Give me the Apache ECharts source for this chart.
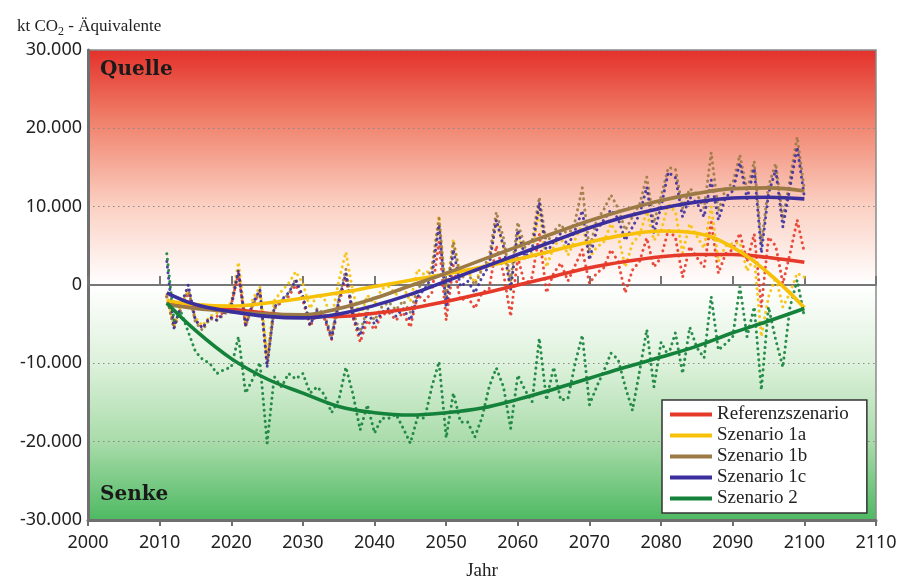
<!DOCTYPE html>
<html>
<head>
<meta charset="utf-8">
<script src="https://cdn.jsdelivr.net/npm/echarts@6/dist/echarts.min.js"></script>
<style>
  html, body { margin: 0; padding: 0; background: #fff; }
  #chart { width: 899px; height: 581px; }
</style>
</head>
<body>
<div id="chart"></div>
<script>
// Jahreswerte 2011-2100 (kt CO2-Aequivalente)
var firstYear = 2011;

var refAnnual = [
    -1500, -5500, -2800, -1000, -4500, -5500, -4300, -4000, -3500, -2500,
    1500, -5300, -2500, -1000, -10000, -3000, -2200, -1500, 0, -2000,
    -5300, -3500, -4300, -7000, -2500, 1000, -4200, -7300, -4500, -5700,
    -3800, -3500, -4500, -3500, -5400, -1300, -2000, -1000, 5500, -4500,
    2500, -2000, -1500, -3000, -1000, -500, 5000, 1500, -4000, 3500,
    0, 1000, 6500, -1000, 1500, 2800, 500, 2500, 4500, 200,
    1500, 2200, 4500, 3000, -1000, 1900, 3000, 6000, 2300, 3500,
    7000, 6100, 1000, 4900, 3500, 2300, 8000, 1500, 4000, 4500,
    6600, 3000, 6500, -2800, 6100, 5000, 200, 4000, 8300, 4100
];
var s1aAnnual = [
    -1200, -5200, -2500, -700, -4200, -5200, -4000, -3600, -3200, -2200,
    2900, -4600, -1800, -200, -9300, -2000, -800, 200, 1700, 200,
    -3000, -1200, -1800, -4300, 500, 4200, -1000, -4100, -1300, -2400,
    -500, -200, -1200, -200, -2100, 2000, 1300, 2300, 8800, -1200,
    5800, 1300, 1800, 300, 2300, 2800, 8300, 4800, -700, 6700,
    3200, 4200, 9700, 2300, 4800, 6100, 3800, 5800, 7800, 3500,
    4800, 5500, 7800, 6300, 2300, 5300, 6400, 9400, 5700, 6900,
    10300, 9300, 4100, 7800, 6200, 4700, 10000, 3000, 5000, 5300,
    5400, 1800, 3500, -6600, -1500, 1000, -2800, -1000, 1500, 1000
];
var s1bAnnual = [
    -1500, -5500, -3000, -500, -4800, -5800, -4300, -4500, -3800, -2800,
    1500, -5300, -2600, -800, -10000, -3000, -2000, -1200, 800, -1500,
    -5000, -3000, -3800, -6500, -1800, 2000, -3500, -6000, -3000, -4500,
    -2800, -2200, -3200, -2000, -3500, -500, 500, 2000, 8500, -1800,
    5500, 800, 1500, 0, 2000, 3500, 9300, 6000, 500, 8000,
    4800, 5700, 11200, 5300, 6800, 7800, 6200, 8200, 12400, 4500,
    8300, 9600, 11500, 9800, 7000, 8700, 10300, 13800, 7900, 11300,
    15000, 14800, 9800, 12300, 11600, 9800, 16900, 9400, 12300, 13000,
    16600, 12000, 15800, 5200, 12700, 15500, 8400, 13500, 18900, 12200
];
var s1cAnnual = [
    3000, -5500, -2500, 0, -4500, -5500, -4100, -4500, -3500, -2500,
    1900, -5100, -2300, -600, -10500, -2800, -1900, -1000, 600, -1500,
    -5100, -3200, -4000, -6800, -2000, 1500, -4000, -6500, -3500, -5000,
    -3500, -3000, -4000, -3000, -4500, -1500, -500, 1000, 7700, -2800,
    4500, -200, 500, -1000, 1000, 2500, 8300, 4900, -600, 7000,
    3600, 4500, 10500, 4100, 5500, 6600, 5000, 7000, 9500, 3200,
    7000, 8300, 9600, 8500, 5700, 7400, 9000, 12500, 6600, 10000,
    14400, 13700, 8700, 11200, 10500, 8700, 13400, 8300, 11200, 12000,
    15600, 11000, 14900, 4100, 11700, 14700, 7400, 12500, 17600, 11200
];
var s2Annual = [
    4000, -4500, -3500, -6000, -8500, -9500, -10000, -11300, -10800, -10500,
    -6600, -13800, -12000, -9900, -20200, -11700, -13000, -11300, -12000, -11300,
    -13800, -13000, -14000, -16300, -14700, -10500, -14000, -18500, -15300, -18900,
    -17000, -17000, -16500, -18300, -20200, -16900, -17000, -13000, -9800, -19500,
    -13800, -17500, -17500, -19400, -16900, -13000, -10600, -13000, -18300, -11500,
    -13400, -14900, -6800, -14700, -10500, -14700, -14500, -10000, -6400, -15300,
    -13000, -11000, -8700, -9500, -13000, -16000, -11000, -5700, -13000, -7300,
    -9000, -6100, -11300, -5400, -8000, -9300, -1500, -8300, -7500, -6600,
    -200, -6600, -2800, -13400, -2800, -7000, -10500, -2800, 600, -4100
];

// Trendkurven
var trendYears = [2011, 2015, 2020, 2025, 2030, 2035, 2040, 2045, 2050, 2055,
    2060, 2065, 2070, 2075, 2080, 2085, 2090, 2095, 2100];
var refTrend = [-2300, -2700, -3100, -3600, -4000, -4000, -3600, -3000, -2100, -1100,
    0, 1100, 2200, 3000, 3600, 3900, 3900, 3500, 2900];
var s1aTrend = [-2000, -2500, -2700, -2300, -1700, -1000, -200, 600, 1400, 2300,
    3300, 4400, 5500, 6400, 6900, 6600, 4800, 1500, -2900];
var s1bTrend = [-2500, -3000, -3400, -3700, -3800, -3000, -1700, -100, 1500, 3200,
    4900, 6600, 8200, 9600, 10800, 11700, 12300, 12400, 12000];
var s1cTrend = [-1000, -2500, -3400, -4000, -4200, -3700, -2600, -1200, 500, 2200,
    3900, 5600, 7300, 8700, 9800, 10600, 11100, 11200, 11000];
var s2Trend = [-2300, -5800, -9400, -12000, -13800, -15500, -16300, -16600, -16300, -15700,
    -14600, -13300, -11900, -10500, -9200, -7800, -6100, -4600, -3000];

var names = ['Referenzszenario', 'Szenario 1a', 'Szenario 1b', 'Szenario 1c', 'Szenario 2'];
var colors = ['#e53a2a', '#f7c10a', '#9c7a45', '#3b2f9e', '#14823a'];
var annuals = [refAnnual, s1aAnnual, s1bAnnual, s1cAnnual, s2Annual];
var trends = [refTrend, s1aTrend, s1bTrend, s1cTrend, s2Trend];

function fmt(v) {
    var s = String(Math.abs(v)).replace(/\B(?=(\d{3})+(?!\d))/g, '.');
    return (v < 0 ? '-' : '') + s;
}

var series = [];
annuals.forEach(function (arr, k) {
    series.push({
        name: names[k] + ' (Jahr)',
        type: 'line',
        symbol: 'none',
        z: 2,
        lineStyle: { color: colors[k], width: 3, type: [0.1, 5.5], cap: 'round', opacity: 0.9 },
        itemStyle: { color: colors[k] },
        data: arr.map(function (v, i) { return [firstYear + i, v]; })
    });
});
trends.forEach(function (arr, k) {
    series.push({
        name: names[k],
        type: 'line',
        symbol: 'none',
        smooth: 0.4,
        z: 5,
        lineStyle: { color: colors[k], width: 3.6 },
        itemStyle: { color: colors[k] },
        data: arr.map(function (v, i) { return [trendYears[i], v]; })
    });
});

var chart = echarts.init(document.getElementById('chart'));
chart.setOption({
    animation: false,
    title: {
        text: '{a|kt CO}{s|2}{a| - Äquivalente}',
        left: 12,
        top: 10,
        textStyle: {
            rich: {
                a: { fontFamily: 'Liberation Serif', fontSize: 17, fontWeight: 'normal', color: '#222', lineHeight: 20, verticalAlign: 'bottom' },
                s: { fontFamily: 'Liberation Serif', fontSize: 12, fontWeight: 'normal', color: '#222', lineHeight: 16, verticalAlign: 'bottom', padding: [0, 0, -3, 0] }
            }
        }
    },
    grid: {
        left: 88, right: 23, top: 50, bottom: 61,
        outerBoundsMode: 'none',
        containLabel: false,
        show: true,
        borderColor: '#8a8a8a',
        borderWidth: 1.5,
        backgroundColor: new echarts.graphic.LinearGradient(0, 0, 0, 1, [
            { offset: 0, color: '#e3302a' },
            { offset: 0.15, color: '#f0806a' },
            { offset: 0.33, color: '#fbd0c2' },
            { offset: 0.5, color: '#ffffff' },
            { offset: 0.67, color: '#dcf1da' },
            { offset: 0.83, color: '#aadcab' },
            { offset: 1, color: '#4db961' }
        ])
    },
    legend: {
        data: names,
        orient: 'vertical',
        left: 662,
        top: 400,
        padding: [4, 18, 4, 8],
        backgroundColor: '#fff',
        borderColor: '#333',
        borderWidth: 1.5,
        icon: 'rect',
        itemWidth: 42,
        itemHeight: 4,
        itemGap: 0,
        textStyle: { fontFamily: 'Liberation Serif', fontSize: 19, color: '#222', lineHeight: 21 }
    },
    xAxis: [{
        type: 'value',
        min: 2000,
        max: 2110,
        interval: 10,
        name: 'Jahr',
        nameLocation: 'middle',
        nameGap: 42,
        nameTextStyle: { fontFamily: 'Liberation Serif', fontSize: 19, color: '#222' },
        axisLine: { onZero: false, lineStyle: { color: '#6f6f6f', width: 3 } },
        axisTick: { show: true, length: 6, lineStyle: { color: '#6f6f6f', width: 2 } },
        axisLabel: { fontFamily: 'Noto Sans', fontSize: 18, color: '#222', margin: 14, formatter: function (v) { return String(v); } },
        splitLine: { show: false }
    }, {
        type: 'value',
        position: 'top',
        min: 2000,
        max: 2110,
        interval: 10,
        axisLine: { onZero: true, lineStyle: { color: '#777', width: 2 } },
        axisTick: { show: true, length: 9, lineStyle: { color: '#777', width: 2 } },
        axisLabel: { show: false },
        splitLine: { show: false }
    }],
    yAxis: {
        type: 'value',
        min: -30000,
        max: 30000,
        interval: 10000,
        axisLine: { show: true, lineStyle: { color: '#6f6f6f', width: 3 } },
        axisTick: { show: false },
        axisLabel: { fontFamily: 'Noto Sans', fontSize: 18, color: '#222', margin: 6, formatter: fmt },
        splitLine: { show: true, lineStyle: { color: '#8a8a8a', width: 1.2, type: [1.5, 3.5] } }
    },
    graphic: [{
        type: 'text',
        left: 100,
        top: 60,
        style: { text: 'Quelle', font: 'bold 20px "DejaVu Serif"', fill: '#1a1a1a' }
    }, {
        type: 'text',
        left: 100,
        top: 485,
        style: { text: 'Senke', font: 'bold 20px "DejaVu Serif"', fill: '#1a1a1a' }
    }],
    series: series
});
</script>
</body>
</html>
